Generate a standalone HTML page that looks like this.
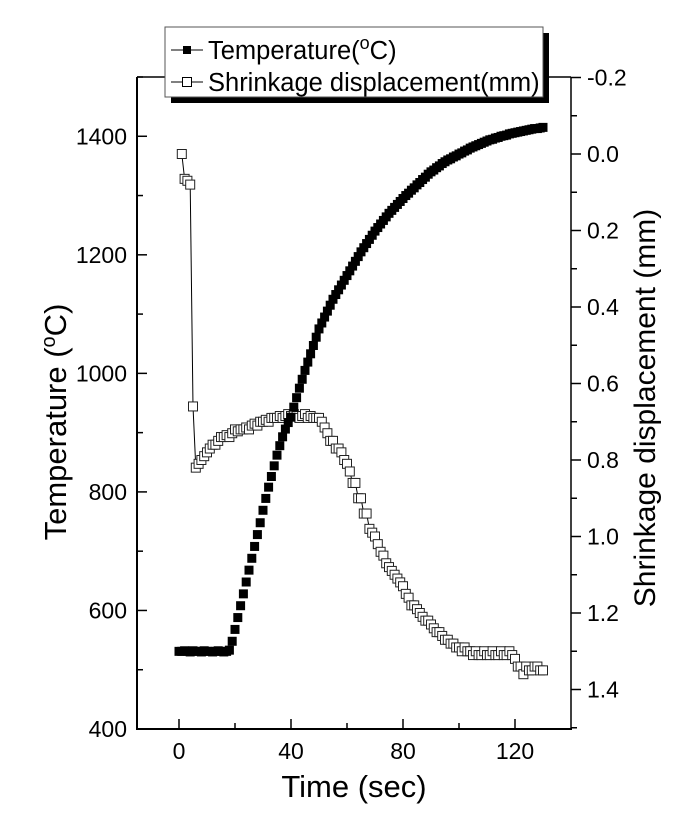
<!DOCTYPE html>
<html><head><meta charset="utf-8"><style>
html,body{margin:0;padding:0;background:#fff;}
svg{display:block;font-family:"Liberation Sans",Arial,sans-serif;}
</style></head><body>
<svg id="chart" width="685" height="822" viewBox="0 0 685 822">
<g id="axes"></g>
<g id="dispSeries"></g>
<g id="tempSeries"></g>
<g id="legend">
<rect x="171" y="33" width="378" height="70" fill="#000"/>
<rect x="165" y="27" width="378" height="70" fill="#fff" stroke="#555" stroke-width="1"/>
<g>
<line x1="171" y1="50" x2="203" y2="50" stroke="#000" stroke-width="1"/>
<rect x="183" y="46" width="8" height="8" fill="#000"/>
<text x="208" y="59" font-size="25.5">Temperature(<tspan baseline-shift="super" font-size="18">o</tspan>C)</text>
</g>
<g>
<line x1="171" y1="82" x2="203" y2="82" stroke="#000" stroke-width="1"/>
<rect x="182.5" y="77.5" width="9" height="9" fill="#fff" stroke="#000" stroke-width="1"/>
<text x="208" y="91" font-size="25.5">Shrinkage displacement(mm)</text>
</g>
</g>
<text x="354" y="797" font-size="31" text-anchor="middle">Time (sec)</text>
<text transform="translate(66,422) rotate(-90)" font-size="31" text-anchor="middle">Temperature (<tspan baseline-shift="super" font-size="20">o</tspan>C)</text>
<text transform="translate(655,408) rotate(-90)" font-size="30" text-anchor="middle">Shrinkage displacement (mm)</text>
</svg>
<script>
const xTicks=[0,40,80,120];
const xMinor=[20,60,100];
const yLeftTicks=[400,600,800,1000,1200,1400];
const yRightTicks=[-0.2,0.0,0.2,0.4,0.6,0.8,1.0,1.2,1.4];
const tempTime=[0,1,2,3,4,5,6,7,8,9,10,11,12,13,14,15,16,17,18,19,20,21,22,23,24,25,26,27,28,29,30,31,32,33,34,35,36,37,38,39,40,41,42,43,44,45,46,47,48,49,50,51,52,53,54,55,56,57,58,59,60,61,62,63,64,65,66,67,68,69,70,71,72,73,74,75,76,77,78,79,80,81,82,83,84,85,86,87,88,89,90,91,92,93,94,95,96,97,98,99,100,101,102,103,104,105,106,107,108,109,110,111,112,113,114,115,116,117,118,119,120,121,122,123,124,125,126,127,128,129,130];
const tempVals=[531,531,532,531,530,532,531,531,530,532,531,531,530,531,532,531,530,531,533,548,568,588,608,628,648,668,688,708,728,748,769,789,808,826,844,862,878,893,906,917,926,943,959,975,990,1005,1019,1033,1047,1061,1075,1085,1095,1105,1115,1125,1133,1141,1149,1157,1165,1173,1181,1189,1197,1205,1212,1219,1226,1233,1240,1246,1252,1258,1264,1270,1275,1280,1285,1290,1295,1300,1304,1309,1313,1318,1322,1327,1331,1336,1340,1343,1347,1350,1354,1357,1360,1362,1365,1367,1370,1372,1375,1377,1380,1382,1384,1386,1388,1390,1392,1394,1395,1397,1398,1400,1401,1402,1404,1405,1406,1407,1408,1409,1410,1411,1412,1413,1413,1414,1415];
const dispTime=[1,2,3,4,5,6,7,8,9,10,11,12,13,14,15,16,17,18,19,20,21,22,23,24,25,26,27,28,29,30,31,32,33,34,35,36,37,38,39,40,41,42,43,44,45,46,47,48,49,50,51,52,53,54,55,56,57,58,59,60,61,62,63,64,65,66,67,68,69,70,71,72,73,74,75,76,77,78,79,80,81,82,83,84,85,86,87,88,89,90,91,92,93,94,95,96,97,98,99,100,101,102,103,104,105,106,107,108,109,110,111,112,113,114,115,116,117,118,119,120,121,122,123,124,125,126,127,128,129,130];
const dispVals=[0.00,0.065,0.07,0.08,0.66,0.82,0.81,0.80,0.79,0.78,0.77,0.76,0.76,0.75,0.74,0.74,0.735,0.74,0.73,0.72,0.725,0.72,0.72,0.715,0.72,0.71,0.705,0.71,0.70,0.70,0.695,0.70,0.69,0.69,0.69,0.685,0.69,0.685,0.68,0.685,0.68,0.685,0.69,0.685,0.68,0.69,0.685,0.69,0.69,0.69,0.70,0.715,0.73,0.75,0.75,0.77,0.77,0.78,0.80,0.81,0.83,0.86,0.86,0.90,0.90,0.94,0.94,0.98,0.99,1.00,1.02,1.04,1.05,1.07,1.08,1.09,1.10,1.11,1.12,1.13,1.15,1.16,1.18,1.18,1.19,1.20,1.21,1.22,1.22,1.23,1.24,1.25,1.25,1.26,1.27,1.27,1.28,1.28,1.29,1.29,1.30,1.29,1.30,1.30,1.31,1.30,1.31,1.31,1.30,1.31,1.31,1.30,1.31,1.31,1.30,1.31,1.31,1.30,1.31,1.32,1.34,1.34,1.36,1.34,1.35,1.35,1.34,1.34,1.35,1.35];

const L=137,R=571,T=77,B=729;
const xs=v=>L+(v+15)*(R-L)/155;
const yl=v=>B-(v-400)*(B-T)/1100;
const yr=v=>154+v*382.5;
const NS='http://www.w3.org/2000/svg';
function mk(tag,attrs,parent){const e=document.createElementNS(NS,tag);for(const k in attrs)e.setAttribute(k,attrs[k]);parent.appendChild(e);return e;}
const ax=document.getElementById('axes');
let e;
e=mk('line',{x1:L,y1:T,x2:L,y2:B+1,stroke:'#000','stroke-width':2},ax);


e=mk('line',{x1:L-1,y1:B,x2:R+1,y2:B,stroke:'#000','stroke-width':2},ax);


e=mk('line',{x1:R,y1:T,x2:R,y2:B,stroke:'#000','stroke-width':1.5},ax);


e=mk('line',{x1:L,y1:T,x2:R,y2:T,stroke:'#000','stroke-width':1.5},ax);


xTicks.forEach(v=>{const x=xs(v);
 mk('line',{x1:x,y1:B,x2:x,y2:B-10,stroke:'#000','stroke-width':1.5},ax);
 e=mk('text',{x:x,y:B+30,'font-size':23,'text-anchor':'middle'},ax);e.textContent=v;
 
 });
xMinor.forEach(v=>{const x=xs(v);mk('line',{x1:x,y1:B,x2:x,y2:B-6,stroke:'#000','stroke-width':1.5},ax);});
for(let v=500;v<=1500;v+=200){mk('line',{x1:L,y1:yl(v),x2:L+6,y2:yl(v),stroke:'#000','stroke-width':1.5},ax);}
yLeftTicks.forEach(v=>{const y=yl(v);
 mk('line',{x1:L,y1:y,x2:L+10,y2:y,stroke:'#000','stroke-width':1.5},ax);
 e=mk('text',{x:127,y:y+8,'font-size':23,'text-anchor':'end'},ax);e.textContent=v;
 
 });
for(let v=-0.1;v<1.5;v+=0.2){mk('line',{x1:R,y1:yr(v),x2:R+6,y2:yr(v),stroke:'#000','stroke-width':1.5},ax);}
yRightTicks.forEach(v=>{const y=yr(v);
 mk('line',{x1:R,y1:y,x2:R+10,y2:y,stroke:'#000','stroke-width':1.5},ax);
 e=mk('text',{x:587,y:y+8,'font-size':23,'text-anchor':'start'},ax);e.textContent=v.toFixed(1);
 
 });
const ds=document.getElementById('dispSeries');
e=mk('polyline',{points:dispTime.map((t,i)=>xs(t)+','+yr(dispVals[i])).join(' '),fill:'none',stroke:'#000','stroke-width':1},ds);


dispTime.forEach((t,i)=>{e=mk('rect',{x:xs(t)-4.5,y:yr(dispVals[i])-4.5,width:9,height:9,fill:'#fff',stroke:'#222','stroke-width':1},ds);
 
 });
const ts=document.getElementById('tempSeries');
tempTime.forEach((t,i)=>{e=mk('rect',{x:xs(t)-4.5,y:yl(tempVals[i])-4.5,width:9,height:9,fill:'#000'},ts);
 
 });
</script>
</body></html>
